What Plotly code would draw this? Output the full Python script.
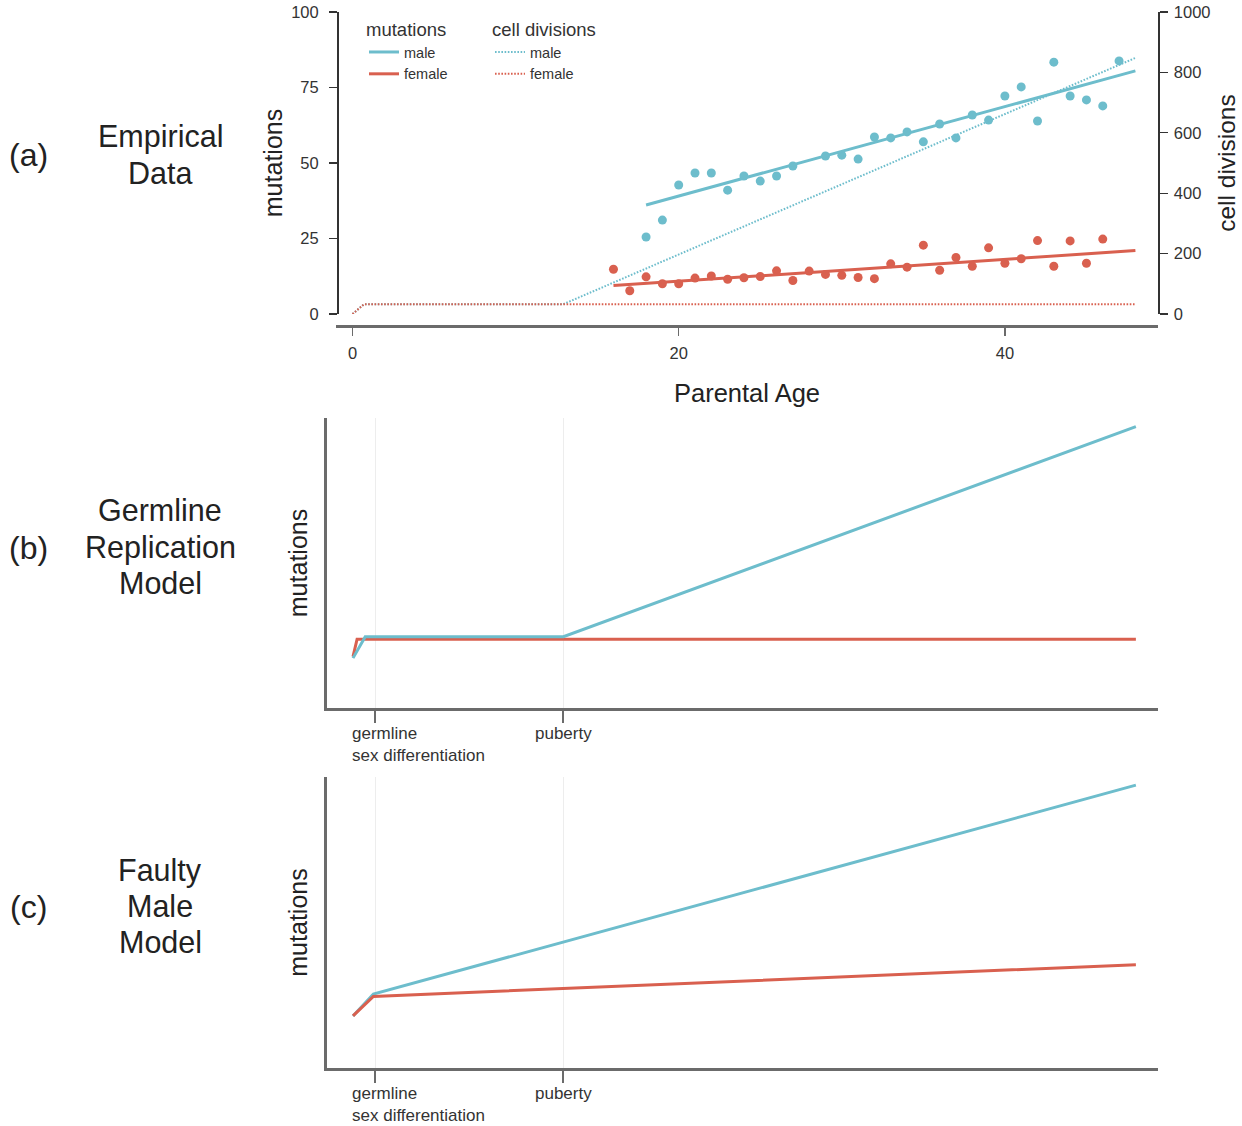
import plotly.graph_objects as go

W, H = 1242, 1126
CYAN = "#6dbdcc"
RED = "#d9604f"
FONT = "Liberation Sans, Arial, sans-serif"

# ---------------- data: panel (a) empirical ----------------
male_ages = [18, 19, 20, 21, 22, 23, 24, 25, 26, 27,
             29, 30, 31, 32, 33, 34, 35, 36, 37, 38, 39, 40, 41, 42, 43, 44, 45, 46, 47]
male_mut = [25.5, 31.1, 42.7, 46.7, 46.7, 41.0, 45.7, 44.0, 45.7, 49.0,
            52.3, 52.6, 51.3, 58.6, 58.3, 60.3, 57.0, 62.9, 58.3, 65.9, 64.2, 72.2, 75.2, 63.9,
            83.4, 72.2, 70.9, 68.9, 83.8]
female_ages = list(range(16, 47))
female_mut = [14.8, 7.7, 12.3, 10.0, 10.0, 11.9, 12.6, 11.5, 12.0, 12.4, 14.3, 11.1, 14.2, 13.1,
              12.8, 12.1, 11.7, 16.6, 15.5, 22.8, 14.5, 18.7, 15.8, 21.9, 16.8, 18.3, 24.3,
              15.8, 24.2, 16.8, 24.8]
male_fit_age = [18, 48]
male_fit_mut = [36.1, 80.5]
female_fit_age = [16, 48]
female_fit_mut = [9.4, 21.0]

male_cd_age = [0, 0.7, 12.9, 48]
male_cd = [0, 32, 32, 848]
female_cd_age = [0, 0.7, 48]
female_cd = [0, 32, 32]

x_ticks_a = [0, 20, 40]
y_ticks_left = [0, 25, 50, 75, 100]
y_ticks_right = [0, 200, 400, 600, 800, 1000]

# ---------------- data: panel (b) germline replication model ----------------
b_male_age = [0, 0.75, 12.9, 48]
b_male = [17.2, 24.6, 24.6, 97.0]
b_female_age = [0, 0.25, 48]
b_female = [17.7, 23.7, 23.7]

# ---------------- data: panel (c) faulty male model ----------------
c_male_age = [0, 1.25, 48]
c_male = [17.9, 25.4, 97.2]
c_female_age = [0, 1.25, 48]
c_female = [17.9, 24.6, 35.5]

event_ages = [1.35, 12.9]
event_labels = ["germline<br>sex differentiation", "puberty"]

panel_tags = ["(a)", "(b)", "(c)"]
panel_names = [["Empirical", "Data"], ["Germline", "Replication", "Model"],
               ["Faulty", "Male", "Model"]]


# ---------------- helpers (screen pixel -> paper) ----------------
def px(x):
    return x / W


def py(y):
    return 1 - y / H


fig = go.Figure()

# panel (a)
fig.add_trace(go.Scatter(x=male_ages, y=male_mut, mode="markers", xaxis="x", yaxis="y",
                         marker=dict(color=CYAN, size=9), showlegend=False))
fig.add_trace(go.Scatter(x=female_ages, y=female_mut, mode="markers", xaxis="x", yaxis="y",
                         marker=dict(color=RED, size=9), showlegend=False))
fig.add_trace(go.Scatter(x=male_fit_age, y=male_fit_mut, mode="lines", xaxis="x", yaxis="y",
                         line=dict(color=CYAN, width=3), name="male", legend="legend"))
fig.add_trace(go.Scatter(x=female_fit_age, y=female_fit_mut, mode="lines", xaxis="x", yaxis="y",
                         line=dict(color=RED, width=3), name="female", legend="legend"))
fig.add_trace(go.Scatter(x=male_cd_age, y=male_cd, mode="lines", xaxis="x", yaxis="y2",
                         line=dict(color=CYAN, width=2, dash="1.6px,1.6px"), name="male",
                         legend="legend2"))
fig.add_trace(go.Scatter(x=female_cd_age, y=female_cd, mode="lines", xaxis="x", yaxis="y2",
                         line=dict(color=RED, width=2, dash="1.6px,1.6px"), name="female",
                         legend="legend2"))

# panel (b)
fig.add_trace(go.Scatter(x=b_female_age, y=b_female, mode="lines", xaxis="x2", yaxis="y3",
                         line=dict(color=RED, width=3), showlegend=False))
fig.add_trace(go.Scatter(x=b_male_age, y=b_male, mode="lines", xaxis="x2", yaxis="y3",
                         line=dict(color=CYAN, width=3), showlegend=False))
# panel (c)
fig.add_trace(go.Scatter(x=c_male_age, y=c_male, mode="lines", xaxis="x3", yaxis="y4",
                         line=dict(color=CYAN, width=3), showlegend=False))
fig.add_trace(go.Scatter(x=c_female_age, y=c_female, mode="lines", xaxis="x3", yaxis="y4",
                         line=dict(color=RED, width=3), showlegend=False))

AXC = "#6b6b6b"
TXT = "#222"
tickfont = dict(family=FONT, size=16.5, color="#333")

x_a_range = [(336 - 352.5) / 16.31, (1158 - 352.5) / 16.31]
x_bc_range = [(327 - 353) / 16.31, (1158 - 353) / 16.31]

model_x = dict(range=x_bc_range, showline=True, linecolor=AXC, linewidth=3,
               ticks="outside", ticklen=12, tickwidth=2, tickcolor=AXC,
               tickvals=event_ages, showticklabels=False, showgrid=True,
               gridcolor="#ededed", gridwidth=1, zeroline=False, automargin=False)
model_y = dict(range=[0, 100], showline=True, linecolor=AXC, linewidth=3, ticks="",
               showticklabels=False, showgrid=False, zeroline=False, automargin=False,
               title=dict(text="mutations", font=dict(family=FONT, size=25, color=TXT),
                          standoff=10))

fig.update_layout(
    width=W, height=H, autosize=False,
    margin=dict(l=0, r=0, t=0, b=0, autoexpand=False),
    paper_bgcolor="white", plot_bgcolor="white",
    font=dict(family=FONT, color="#333"),
    xaxis=dict(domain=[px(336), px(1158)], anchor="free", position=py(326),
               range=x_a_range, showline=True, linecolor=AXC, linewidth=2.5,
               ticks="outside", ticklen=8, tickwidth=1.5, tickcolor=AXC,
               tickvals=x_ticks_a, tickfont=tickfont, showgrid=False, zeroline=False,
               automargin=False, ticklabelstandoff=4,
               title=dict(text="Parental Age", font=dict(family=FONT, size=25.5, color=TXT),
                          standoff=22)),
    yaxis=dict(domain=[py(314), py(12)], anchor="free", position=px(337), range=[0, 100],
               showline=True, linecolor="#333", linewidth=1.5, ticks="outside", ticklen=8,
               tickwidth=1.2, tickcolor="#333", tickvals=y_ticks_left, tickfont=tickfont,
               showgrid=False, zeroline=False, automargin=False, ticklabelstandoff=7,
               ticklabeloverflow="allow",
               title=dict(text="mutations", font=dict(family=FONT, size=25, color=TXT),
                          standoff=0)),
    yaxis2=dict(overlaying="y", side="right", anchor="free", position=px(1158),
                range=[0, 1000], showline=True, linecolor="#333", linewidth=1.5,
                ticks="outside", ticklen=8, tickwidth=1.2, tickcolor="#333",
                tickvals=y_ticks_right, tickfont=tickfont, showgrid=False, zeroline=False,
                automargin=False, ticklabelstandoff=3, ticklabeloverflow="allow",
                title=dict(text="cell divisions", font=dict(family=FONT, size=24.5, color=TXT),
                           standoff=8)),
    xaxis2=dict(domain=[px(327), px(1158)], anchor="y3", **model_x),
    yaxis3=dict(domain=[py(708), py(418)], anchor="x2", **model_y),
    xaxis3=dict(domain=[px(327), px(1158)], anchor="y4", **model_x),
    yaxis4=dict(domain=[py(1068), py(777)], anchor="x3", **model_y),
    legend=dict(x=px(364), y=py(12), xanchor="left", yanchor="top",
                title=dict(text="mutations", font=dict(family=FONT, size=18.5, color="#333")),
                font=dict(family=FONT, size=14.5, color="#333"), bgcolor="rgba(0,0,0,0)",
                traceorder="normal", itemwidth=30, tracegroupgap=0),
    legend2=dict(x=px(490), y=py(12), xanchor="left", yanchor="top",
                 title=dict(text="cell divisions",
                            font=dict(family=FONT, size=18.5, color="#333")),
                 font=dict(family=FONT, size=14.5, color="#333"), bgcolor="rgba(0,0,0,0)",
                 traceorder="normal", itemwidth=30, tracegroupgap=0),
)

# event labels in models (b) and (c)
evfont = dict(family=FONT, size=17, color="#333")
for xa, ytxt in (("x2", 722), ("x3", 1082)):
    fig.add_annotation(x=event_ages[0], y=py(ytxt), xref=xa, yref="paper", text=event_labels[0],
                       showarrow=False, xanchor="left", yanchor="top", align="left",
                       xshift=-25, font=evfont)
    fig.add_annotation(x=event_ages[1], y=py(ytxt), xref=xa, yref="paper", text=event_labels[1],
                       showarrow=False, xanchor="center", yanchor="top", font=evfont)

# panel titles
big = dict(family=FONT, size=30.5, color=TXT)
tag_y = [155, 548, 907]
name_y = [[136, 173], [510, 547, 583], [870, 906, 942]]
for tag, ty, names, ys in zip(panel_tags, tag_y, panel_names, name_y):
    fig.add_annotation(x=px(28), y=py(ty), xref="paper", yref="paper", text=tag,
                       showarrow=False, xanchor="center", yanchor="middle",
                       font=dict(family=FONT, size=32, color=TXT))
    for nm, yy in zip(names, ys):
        fig.add_annotation(x=px(160), y=py(yy), xref="paper", yref="paper", text=nm,
                           showarrow=False, xanchor="center", yanchor="middle", font=big)

# remove the default 8px page margin so the figure fills the window exactly
fig.write_html("out.html",
               config={"displayModeBar": False, "staticPlot": True},
               post_script="document.body.style.margin='0px';"
                           "document.body.style.overflow='hidden';")
